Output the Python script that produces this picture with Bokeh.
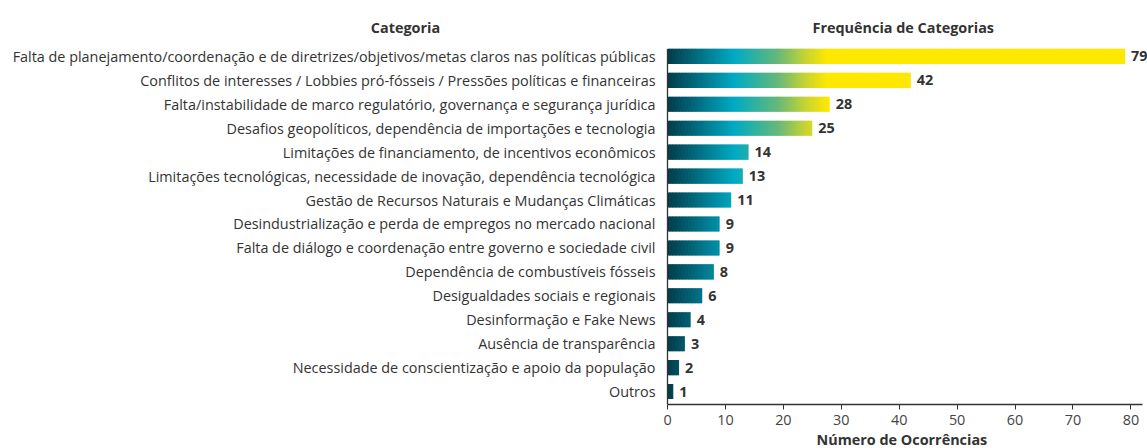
import numpy as np
from bokeh.plotting import figure
from bokeh.models import Range1d, FixedTicker, Title
from bokeh.core.properties import value
from bokeh.embed import file_html
from bokeh.resources import INLINE

categories = [
    "Falta de planejamento/coordenação e de diretrizes/objetivos/metas claros nas políticas públicas",
    "Conflitos de interesses / Lobbies pró-fósseis / Pressões políticas e financeiras",
    "Falta/instabilidade de marco regulatório, governança e segurança jurídica",
    "Desafios geopolíticos, dependência de importações e tecnologia",
    "Limitações de financiamento, de incentivos econômicos",
    "Limitações tecnológicas, necessidade de inovação, dependência tecnológica",
    "Gestão de Recursos Naturais e Mudanças Climáticas",
    "Desindustrialização e perda de empregos no mercado nacional",
    "Falta de diálogo e coordenação entre governo e sociedade civil",
    "Dependência de combustíveis fósseis",
    "Desigualdades sociais e regionais",
    "Desinformação e Fake News",
    "Ausência de transparência",
    "Necessidade de conscientização e apoio da população",
    "Outros",
]
counts = [79, 42, 28, 25, 14, 13, 11, 9, 9, 8, 6, 4, 3, 2, 1]
x_ticks = [0, 10, 20, 30, 40, 50, 60, 70, 80]
title_left = "Categoria"
title_right = "Frequência de Categorias"
x_title = "Número de Ocorrências"

# gradient stops (value position -> colour)
grad_pos = [0.0, 11.6, 19.0, 24.0, 27.7]
grad_col = ["#033c4c", "#00abc4", "#66b87a", "#c9d431", "#ffe800"]

FONT = "Open Sans"
FS = "14.4px"
TXT = "#333333"

def hex2rgb(h):
    h = h.lstrip("#")
    return np.array([int(h[i:i + 2], 16) for i in (0, 2, 4)], dtype=float)

stops = np.array([hex2rgb(c) for c in grad_col])

def color_at(v):
    r = np.interp(v, grad_pos, stops[:, 0])
    g = np.interp(v, grad_pos, stops[:, 1])
    b = np.interp(v, grad_pos, stops[:, 2])
    return "#%02x%02x%02x" % (int(round(r)), int(round(g)), int(round(b)))

n = len(categories)
ys = list(range(n))
bar_h = 0.63
step = 0.25

W, H = 1147, 448
AX_X = 667          # pixel of value 0
AX_END = 1142       # pixel where x axis ends
X_AXIS_MAX = 82
PX_PER_UNIT = (AX_END - AX_X) / X_AXIS_MAX
X_MIN = -AX_X / PX_PER_UNIT
X_MAX = X_AXIS_MAX + (W - AX_END) / PX_PER_UNIT
FRAME_BOTTOM = 405
Y_BOTTOM = n - 1 + 0.54
Y_TOP_AXIS = -0.31
Y_TOP = Y_BOTTOM - FRAME_BOTTOM / 24.0

left, right, top, bottom, cols = [], [], [], [], []
for i, v in enumerate(counts):
    edges = np.arange(0, v, step)
    for e in edges:
        r_edge = min(e + step, v)
        left.append(e)
        right.append(min(r_edge + step * 0.6, v))
        top.append(i - bar_h / 2)
        bottom.append(i + bar_h / 2)
        cols.append(color_at((e + r_edge) / 2))

p = figure(width=W, height=H, output_backend="svg", toolbar_location=None,
           x_range=Range1d(X_MIN, X_MAX), y_range=Range1d(Y_BOTTOM, Y_TOP),
           min_border_left=0, min_border_right=0, min_border_top=0,
           min_border_bottom=H - FRAME_BOTTOM,
           background_fill_color="white", border_fill_color="white")
p.outline_line_color = None
p.grid.visible = False
p.yaxis.visible = False

p.quad(left=left, right=right, top=top, bottom=bottom, fill_color=cols, line_color=None)

# vertical axis line
p.segment(x0=[0], y0=[Y_TOP_AXIS], x1=[0], y1=[Y_BOTTOM], line_color="#333333", line_width=1.3)

# category labels
p.text(x=[0] * n, y=ys, text=categories, x_offset=-12, text_align="right",
       text_baseline="middle", text_font=value(FONT), text_font_size=FS, text_color=TXT)

# value labels
p.text(x=counts, y=ys, text=[str(c) for c in counts], x_offset=6, text_align="left",
       text_baseline="middle", text_font=value(FONT), text_font_size=FS,
       text_font_style="bold", text_color=TXT)

# column titles
p.text(x=[X_MIN + 405 / PX_PER_UNIT, X_AXIS_MAX / 2 - 0.3], y=[Y_TOP_AXIS, Y_TOP_AXIS],
       text=[title_left, title_right],
       y_offset=-21, text_align="center", text_baseline="middle",
       text_font=value(FONT), text_font_size=FS, text_font_style="bold", text_color=TXT)

# x axis
p.xaxis.bounds = (0, X_AXIS_MAX)
p.xaxis.ticker = FixedTicker(ticks=x_ticks)
p.xaxis.minor_tick_line_color = None
p.xaxis.major_tick_out = 5
p.xaxis.major_tick_in = 0
p.xaxis.major_tick_line_color = "#333333"
p.xaxis.axis_line_color = "#333333"
p.xaxis.axis_line_width = 1.3
p.xaxis.major_label_text_font = FONT
p.xaxis.major_label_text_font_size = FS
p.xaxis.major_label_text_color = "#444444"
p.xaxis.major_label_standoff = 5

# x axis title, roughly centred under the 0..82 axis span
p.add_layout(Title(text=x_title, align="left", offset=816,
                   text_font=FONT, text_font_size=FS, text_font_style="bold",
                   text_color=TXT, standoff=0), "below")

open("out.html", "w").write(file_html(p, INLINE))
